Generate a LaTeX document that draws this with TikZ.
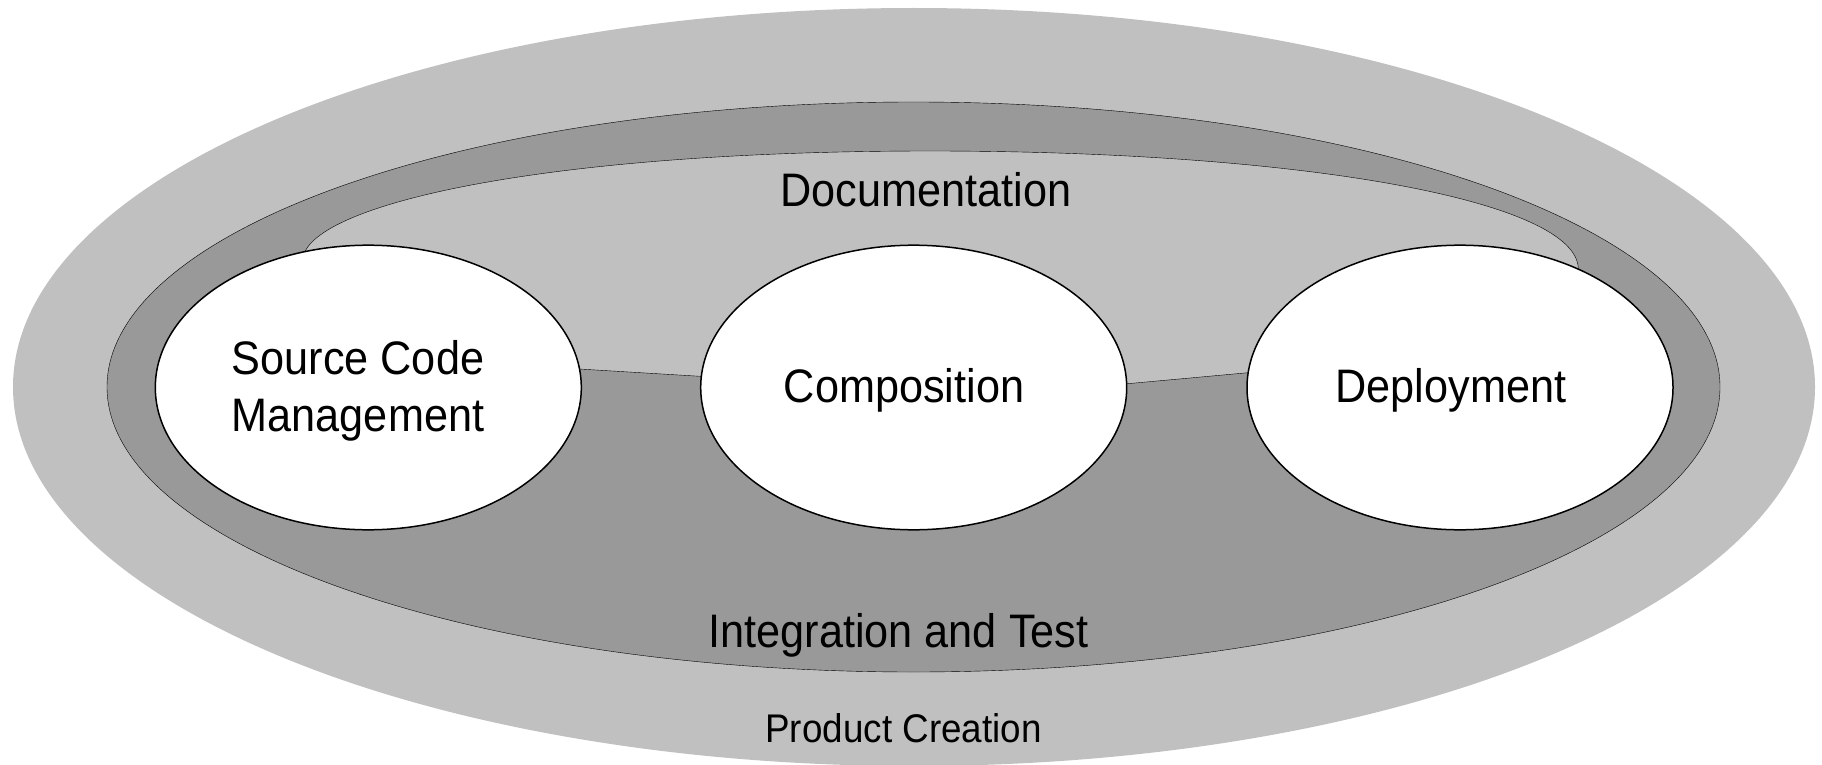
\documentclass[tikz,border=0pt]{standalone}
\usepackage{fontspec}
\setmainfont{Liberation Sans}[FakeStretch=0.92]
\usetikzlibrary{shapes.geometric,backgrounds}
\definecolor{lightgrey}{HTML}{C0C0C0}
\definecolor{darkgrey}{HTML}{999999}
\begin{document}
\begin{tikzpicture}[x=1pt,y=-1pt, line width=1.5pt,
  phase/.style={ellipse, draw=black, fill=white, minimum width=426pt, minimum height=284.6pt, inner sep=0pt, outer sep=0pt},
  lbl/.style={font=\fontsize{47}{57}\selectfont, inner sep=0pt, align=center},
  smalllbl/.style={font=\fontsize{40}{46}\selectfont, inner sep=0pt}]
\useasboundingbox (0,0) rectangle (1822,765);
\node[phase] (scm) at (368.3,387.5) {};
\node[phase] (comp) at (913.7,387.5) {};
\node[phase] (dep) at (1460,387.5) {};
\begin{pgfonlayer}{background}
\fill[lightgrey] (914,387) ellipse [x radius=901pt, y radius=379pt];
\filldraw[fill=darkgrey] (913.5,387) ellipse [x radius=806.5pt, y radius=285pt];
\fill[lightgrey] (scm.115.4) .. controls (330,200) and (560,151) .. (930,151) .. controls (1300,151) and (1578,200) .. (dep.45) -- (dep.center) -- (dep.176.3) -- (comp.1) -- (comp.center) -- (comp.177.9) -- (scm.5) -- (scm.center) -- cycle;
\end{pgfonlayer}
\draw (scm.115.4) .. controls (330,200) and (560,151) .. (930,151) .. controls (1300,151) and (1578,200) .. (dep.45);
\draw (scm.5) -- (comp.177.9);
\draw (comp.1) -- (dep.176.3);
\node[lbl, anchor=base] (doc) at (926,206) {Documentation};
\node[lbl, anchor=base] (int) at (898.5,647) {Integration and Test};
\node[smalllbl, anchor=base] (pc) at (903.5,742) {Product Creation};
\node[lbl] (scmt) at (358,390.5) {Source Code\\Management};
\node[lbl, anchor=base] (compt) at (904,402) {Composition};
\node[lbl, anchor=base] (dept) at (1451,402) {Deployment};
\end{tikzpicture}
\end{document}
